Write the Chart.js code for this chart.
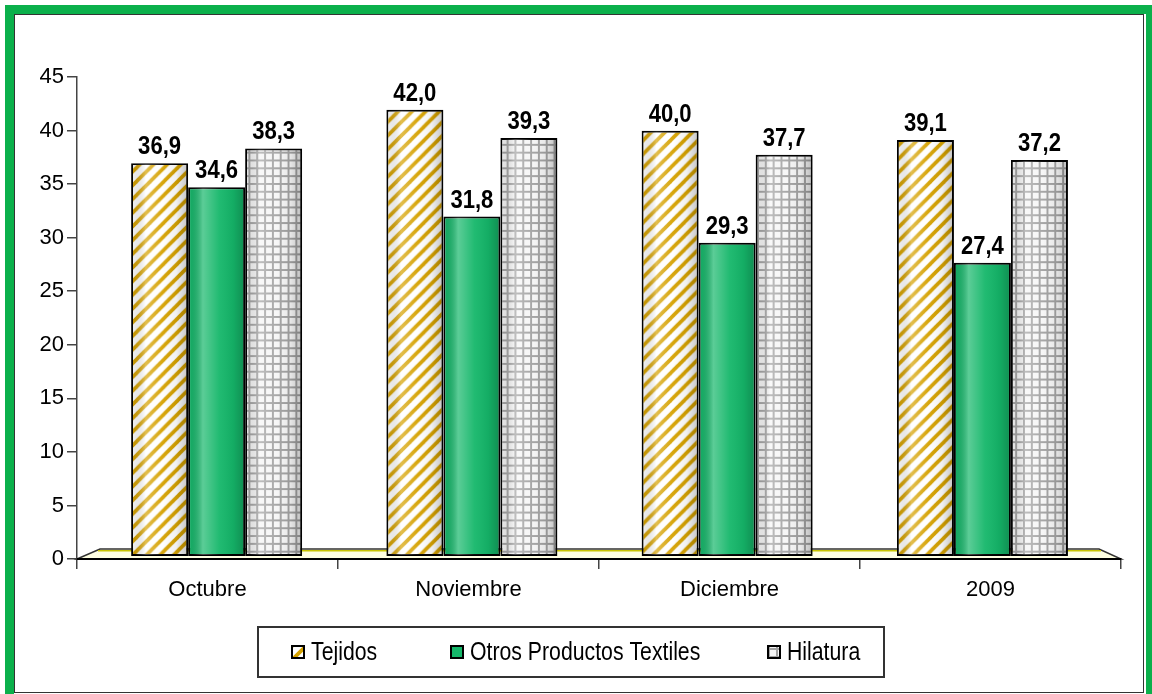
<!DOCTYPE html>
<html>
<head>
<meta charset="utf-8">
<script src="https://cdn.jsdelivr.net/npm/chart.js@4.4.0/dist/chart.umd.min.js"></script>
<style>
  html, body { margin: 0; padding: 0; background: #fff; }
  #wrap { position: relative; width: 1152px; height: 694px; overflow: hidden; }
  #frame { position: absolute; left: 5px; top: 5px; width: 1150px; height: 700px; border: 9px solid #0BB04B; box-sizing: border-box; pointer-events: none; }
  #inner { position: absolute; left: 14px; top: 14px; width: 1130px; height: 679px; border: 1px solid #333; box-sizing: border-box; pointer-events: none; }
</style>
</head>
<body>
<div id="wrap">
  <canvas id="myChart" width="1152" height="694"></canvas>
  <div id="frame"></div>
  <div id="inner"></div>
</div>
<script>
// data
const categories = ['Octubre', 'Noviembre', 'Diciembre', '2009'];
const tejidos = [36.9, 42.0, 40.0, 39.1];
const otros = [34.6, 31.8, 29.3, 27.4];
const hilatura = [38.3, 39.3, 37.7, 37.2];
const seriesNames = ['Tejidos', 'Otros Productos Textiles', 'Hilatura'];
const yTicks = [0, 5, 10, 15, 20, 25, 30, 35, 40, 45];

const FONT = "'Liberation Sans', Arial, sans-serif";
const NARROW = 0.85; // the original uses a narrow face, squeeze the text we draw ourselves

// fills
function makePattern(w, h, draw) {
    const c = document.createElement('canvas');
    c.width = w; c.height = h;
    draw(c.getContext('2d'));
    return document.getElementById('myChart').getContext('2d').createPattern(c, 'repeat');
}
const stripes = makePattern(14, 14, g => {
    g.fillStyle = '#ffffff'; g.fillRect(0, 0, 14, 14);
    g.strokeStyle = '#D6A200'; g.lineWidth = 3.8;
    [[-7, 7, 7, -7], [0, 14, 14, 0], [7, 21, 21, 7]].forEach(s => {
        g.beginPath(); g.moveTo(s[0], s[1]); g.lineTo(s[2], s[3]); g.stroke();
    });
});
const grid = makePattern(8, 8, g => {
    g.fillStyle = '#f6f6f6'; g.fillRect(0, 0, 8, 8);
    g.fillStyle = '#a2a2a2'; g.fillRect(0, 0, 8, 2); g.fillRect(0, 0, 2, 8);
});
const fills = [stripes, '#15B76A', grid];

// bars sit a little behind the front of the floor (3D look)
const K = 0.978;
function depthMap(a) {
    const bx = (a.left + 12) - K * a.left;
    const by = (a.bottom - 9.3) - K * a.bottom;
    return { bx, by, x: v => K * v + bx, y: v => K * v + by };
}

function narrowText(ctx, txt, x, y) {
    ctx.save();
    ctx.translate(x, y);
    ctx.scale(NARROW, 1);
    ctx.fillText(txt, 0, 0);
    ctx.restore();
}

const depthPlugin = {
    id: 'depth',
    beforeDatasetsDraw(chart) {
        const { ctx, chartArea: a } = chart;
        const B = a.bottom;
        // floor
        ctx.save();
        ctx.beginPath();
        ctx.moveTo(a.left, B);
        ctx.lineTo(a.left + 23, B - 10);
        ctx.lineTo(a.right - 22, B - 10);
        ctx.lineTo(a.right, B);
        ctx.closePath();
        ctx.fillStyle = '#FFFFE2';
        ctx.fill();
        ctx.strokeStyle = '#333';
        ctx.lineWidth = 1.5;
        ctx.stroke();
        ctx.beginPath();
        ctx.moveTo(a.left + 21, B - 8.3);
        ctx.lineTo(a.right - 20, B - 8.3);
        ctx.strokeStyle = '#C9C400';
        ctx.lineWidth = 1.5;
        ctx.stroke();
        ctx.restore();

        const m = depthMap(a);
        ctx.save();
        ctx.translate(m.bx, m.by);
        ctx.scale(K, K);
    },
    afterDatasetsDraw(chart) {
        const { ctx, chartArea: a } = chart;
        // cylinder-ish shading
        chart.data.datasets.forEach((ds, i) => {
            chart.getDatasetMeta(i).data.forEach(bar => {
                const l = bar.x - bar.width / 2 + 1, r = bar.x + bar.width / 2 - 1;
                const g = ctx.createLinearGradient(l, 0, r, 0);
                g.addColorStop(0, 'rgba(0,0,0,0.05)');
                g.addColorStop(0.25, 'rgba(255,255,255,0.30)');
                g.addColorStop(0.55, 'rgba(255,255,255,0.05)');
                g.addColorStop(0.8, 'rgba(0,0,0,0.06)');
                g.addColorStop(1, 'rgba(0,0,0,0.22)');
                ctx.fillStyle = g;
                ctx.fillRect(l, bar.y + 1, r - l, bar.base - bar.y - 2);
            });
        });
        ctx.restore();

        // front edge of the floor again
        ctx.save();
        ctx.beginPath();
        ctx.moveTo(a.left, a.bottom);
        ctx.lineTo(a.right, a.bottom);
        ctx.strokeStyle = '#000';
        ctx.lineWidth = 2;
        ctx.stroke();

        // value labels
        const m = depthMap(a);
        ctx.font = 'bold 26px ' + FONT;
        ctx.fillStyle = '#000';
        ctx.textAlign = 'center';
        ctx.textBaseline = 'alphabetic';
        chart.data.datasets.forEach((ds, i) => {
            chart.getDatasetMeta(i).data.forEach((bar, j) => {
                const txt = ds.data[j].toFixed(1).replace('.', ',');
                narrowText(ctx, txt, m.x(bar.x), m.y(bar.y) - 9);
            });
        });
        ctx.restore();
    },
    afterDraw(chart) {
        const ctx = chart.ctx;
        ctx.save();
        // legend frame
        ctx.strokeStyle = '#333';
        ctx.lineWidth = 2;
        ctx.strokeRect(258, 627, 626, 50);
        const textX = [311, 470, 787];
        ctx.font = '25px ' + FONT;
        ctx.textBaseline = 'middle';
        ctx.textAlign = 'left';
        chart.data.datasets.forEach((ds, i) => {
            const bx = textX[i] - 19, by = 646;
            ctx.fillStyle = ds.backgroundColor;
            ctx.fillRect(bx, by, 12, 12);
            ctx.strokeStyle = '#000';
            ctx.lineWidth = 2;
            ctx.strokeRect(bx, by, 12, 12);
            ctx.fillStyle = '#000';
            narrowText(ctx, ds.label, textX[i], 653);
        });
        ctx.restore();
    }
};

const seriesData = [tejidos, otros, hilatura];

new Chart(document.getElementById('myChart'), {
    type: 'bar',
    data: {
        labels: categories,
        datasets: seriesData.map((d, i) => ({
            label: seriesNames[i],
            data: d,
            backgroundColor: fills[i],
            borderColor: '#000',
            borderWidth: 2,
            borderSkipped: false,
            base: -0.6,
            clip: false,
            categoryPercentage: 0.67,
            barPercentage: 1
        }))
    },
    options: {
        responsive: false,
        animation: false,
        layout: { padding: { top: 77, right: 31, bottom: 95, left: 0 } },
        plugins: {
            legend: { display: false },
            tooltip: { enabled: false }
        },
        scales: {
            x: {
                afterFit: s => { s.height = 40; },
                grid: { drawOnChartArea: false, tickLength: 10, color: '#444', lineWidth: 1.5 },
                border: { color: '#000', width: 2 },
                ticks: { color: '#000', font: { family: FONT, size: 22 }, padding: 8, maxRotation: 0 }
            },
            y: {
                min: yTicks[0],
                max: yTicks[yTicks.length - 1],
                afterFit: s => { s.width = 77; },
                afterBuildTicks: s => { s.ticks = yTicks.map(v => ({ value: v })); },
                grid: { drawOnChartArea: false, tickLength: 10, color: '#444', lineWidth: 1.5 },
                border: { color: '#444', width: 1.5 },
                ticks: { color: '#000', font: { family: FONT, size: 22 }, padding: 3 }
            }
        }
    },
    plugins: [depthPlugin]
});
</script>
</body>
</html>
